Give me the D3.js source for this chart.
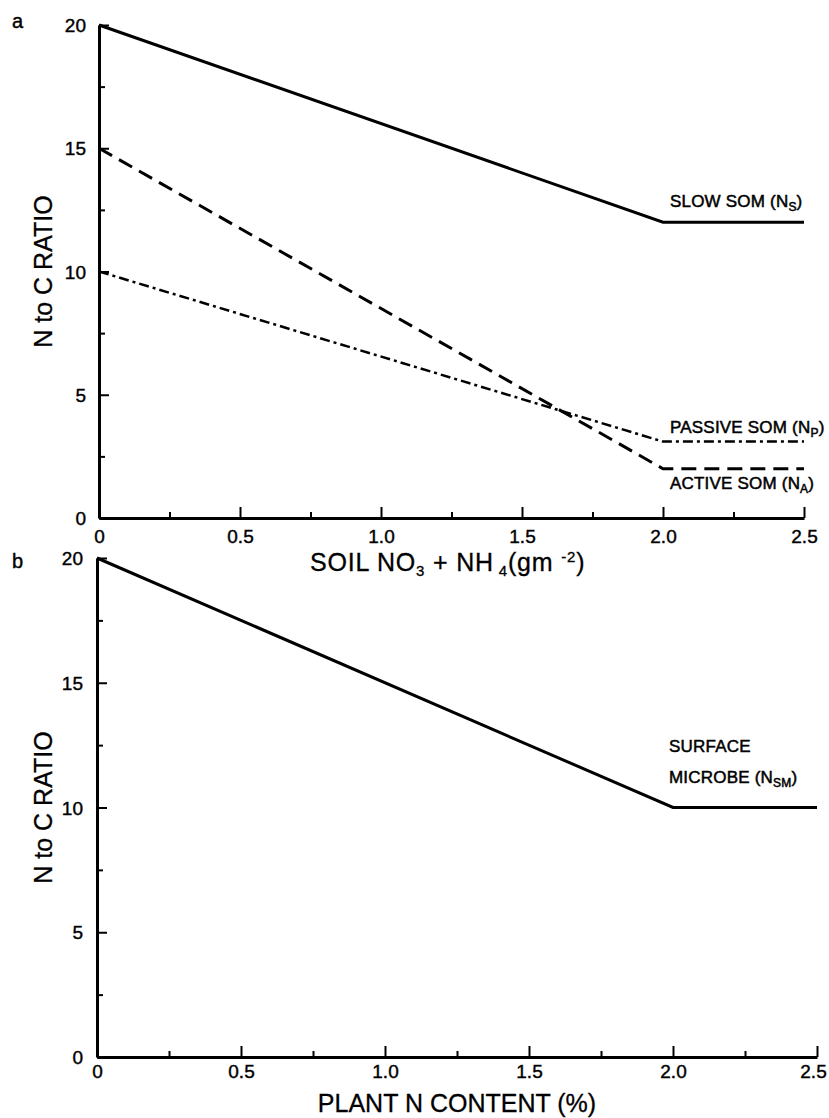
<!DOCTYPE html>
<html>
<head>
<meta charset="utf-8">
<script src="https://cdn.jsdelivr.net/npm/d3@7"></script>
<style>
  body { margin: 0; background: #fff; }
  text { font-family: "Liberation Sans", Arial, Helvetica, sans-serif; fill: #000; }
</style>
</head>
<body>
<div id="d3-container"></div>
<script>
/**
 * CONSTANTS AND GLOBALS
 * */
const width = 829,
  height = 1118;

// panel a: soil mineral N (gm-2) vs N to C ratio
const soilN = [0, 2.0, 2.5];
const slowSOM = [20, 12, 12];
const activeSOM = [15, 2, 2];
const passiveSOM = [10, 3.1, 3.1];

// panel b: plant N content (%) vs N to C ratio
const plantN = [0, 2.0, 2.5];
const surfaceMicrobe = [20, 10, 10];

const xMajor = [0, 0.5, 1.0, 1.5, 2.0, 2.5];
const xMinor = [0.25, 0.75, 1.25, 1.75, 2.25];
const yMajor = [0, 5, 10, 15, 20];
const yMinor = [2.5, 7.5, 12.5, 17.5];

const xFmt = d => d === 0 ? "0" : d3.format(".1f")(d);

const svg = d3.select("#d3-container")
  .append("svg")
  .attr("width", width)
  .attr("height", height);

/**
 * PANEL HELPER
 * */
function panel(opt) {
  const x = d3.scaleLinear().domain([0, 2.5]).range(opt.xRange);
  const y = d3.scaleLinear().domain([0, 20]).range(opt.yRange);

  const g = svg.append("g");

  // x axis, ticks point up into the plot
  const xAxis = g.append("g")
    .attr("transform", `translate(0,${y(0)})`)
    .call(d3.axisBottom(x).tickValues(xMajor).tickSize(-11).tickSizeOuter(0)
      .tickPadding(opt.xPad).tickFormat(xFmt));
  g.append("g")
    .attr("transform", `translate(0,${y(0)})`)
    .call(d3.axisBottom(x).tickValues(xMinor).tickSize(-6).tickSizeOuter(0).tickFormat(""))
    .select(".domain").remove();

  // y axis, ticks point right
  const yAxis = g.append("g")
    .attr("transform", `translate(${x(0)},0)`)
    .call(d3.axisLeft(y).tickValues(yMajor).tickSize(-10).tickSizeOuter(0)
      .tickPadding(opt.yPad));
  g.append("g")
    .attr("transform", `translate(${x(0)},0)`)
    .call(d3.axisLeft(y).tickValues(yMinor).tickSize(-6).tickSizeOuter(0).tickFormat(""))
    .select(".domain").remove();

  g.selectAll(".domain").attr("stroke", "#000").attr("stroke-width", 3);
  g.selectAll(".tick line").attr("stroke", "#000").attr("stroke-width", 2);
  g.selectAll(".tick text")
    .attr("font-size", 19)
    .attr("font-family", "'Liberation Sans', Arial, sans-serif")
    .attr("fill", "#000")
    .attr("stroke", "#000")
    .attr("stroke-width", 0.4);
  yAxis.selectAll(".tick text").attr("dy", "0.35em");
  // keep the last x label inside the page
  xAxis.selectAll(".tick text").filter(d => d === 2.5).attr("dx", opt.lastDx);

  // y title
  g.append("text")
    .attr("transform", `translate(${opt.yTitleX},${(y(0) + y(20)) / 2}) rotate(-90)`)
    .attr("text-anchor", "middle")
    .attr("font-size", 25)
    .attr("stroke", "#000")
    .attr("stroke-width", 0.3)
    .text("N to C RATIO");

  // panel letter
  g.append("text")
    .attr("x", 12)
    .attr("y", opt.letterY)
    .attr("font-size", 20)
    .attr("stroke", "#000")
    .attr("stroke-width", 0.4)
    .text(opt.letter);

  return { g, x, y };
}

function drawLine(p, xs, ys, dash, sw) {
  const pts = xs.map((d, i) => [d, ys[i]]);
  p.g.append("path")
    .datum(pts)
    .attr("fill", "none")
    .attr("stroke", "#000")
    .attr("stroke-width", sw)
    .attr("stroke-dasharray", dash)
    .attr("d", d3.line().x(d => p.x(d[0])).y(d => p.y(d[1])));
}

function label(p, xPos, yPos, main, sub, close) {
  const t = p.g.append("text")
    .attr("x", xPos)
    .attr("y", yPos)
    .attr("font-size", 17)
    .attr("letter-spacing", 0.2)
    .attr("stroke", "#000")
    .attr("stroke-width", 0.5);
  t.append("tspan").text(main);
  if (sub) {
    t.append("tspan").attr("font-size", 12).attr("dy", 4).text(sub);
    t.append("tspan").attr("dy", -4).text(close);
  }
}

/**
 * PANEL A
 * */
const pa = panel({
  xRange: [99, 804], yRange: [518, 25],
  xPad: 12, yPad: 13, yTitleX: 52, letter: "a", letterY: 28, lastDx: 0
});

drawLine(pa, soilN, slowSOM, null, 3);
drawLine(pa, soilN, activeSOM, "15,8", 3);
drawLine(pa, soilN, passiveSOM, "10,4,3,4", 2.5);

label(pa, 670, 207, "SLOW SOM (N", "S", ")");
label(pa, 670, 433, "PASSIVE SOM (N", "P", ")");
label(pa, 670, 489, "ACTIVE SOM (N", "A", ")");

// x title with sub/superscripts
const ta = pa.g.append("text")
  .attr("x", 310)
  .attr("y", 571)
  .attr("font-size", 25)
  .attr("letter-spacing", 0.8)
  .attr("stroke", "#000")
  .attr("stroke-width", 0.3);
ta.append("tspan").text("SOIL NO");
ta.append("tspan").attr("font-size", 15).attr("dy", 5).text("3");
ta.append("tspan").attr("dy", -5).text(" + NH");
ta.append("tspan").attr("font-size", 15).attr("dy", 5).text(" 4");
ta.append("tspan").attr("dy", -5).text("(gm ");
ta.append("tspan").attr("font-size", 15).attr("dy", -9).text("-2");
ta.append("tspan").attr("dy", 9).text(")");

/**
 * PANEL B
 * */
const pb = panel({
  xRange: [97, 817], yRange: [1057, 558],
  xPad: 8, yPad: 14, yTitleX: 52, letter: "b", letterY: 568, lastDx: -4
});

drawLine(pb, plantN, surfaceMicrobe, null, 3);

label(pb, 669, 752, "SURFACE");
label(pb, 669, 783, "MICROBE (N", "SM", ")");

pb.g.append("text")
  .attr("x", (97 + 817) / 2)
  .attr("y", 1112)
  .attr("text-anchor", "middle")
  .attr("font-size", 25)
  .attr("stroke", "#000")
  .attr("stroke-width", 0.3)
  .text("PLANT N CONTENT (%)");
</script>
</body>
</html>
